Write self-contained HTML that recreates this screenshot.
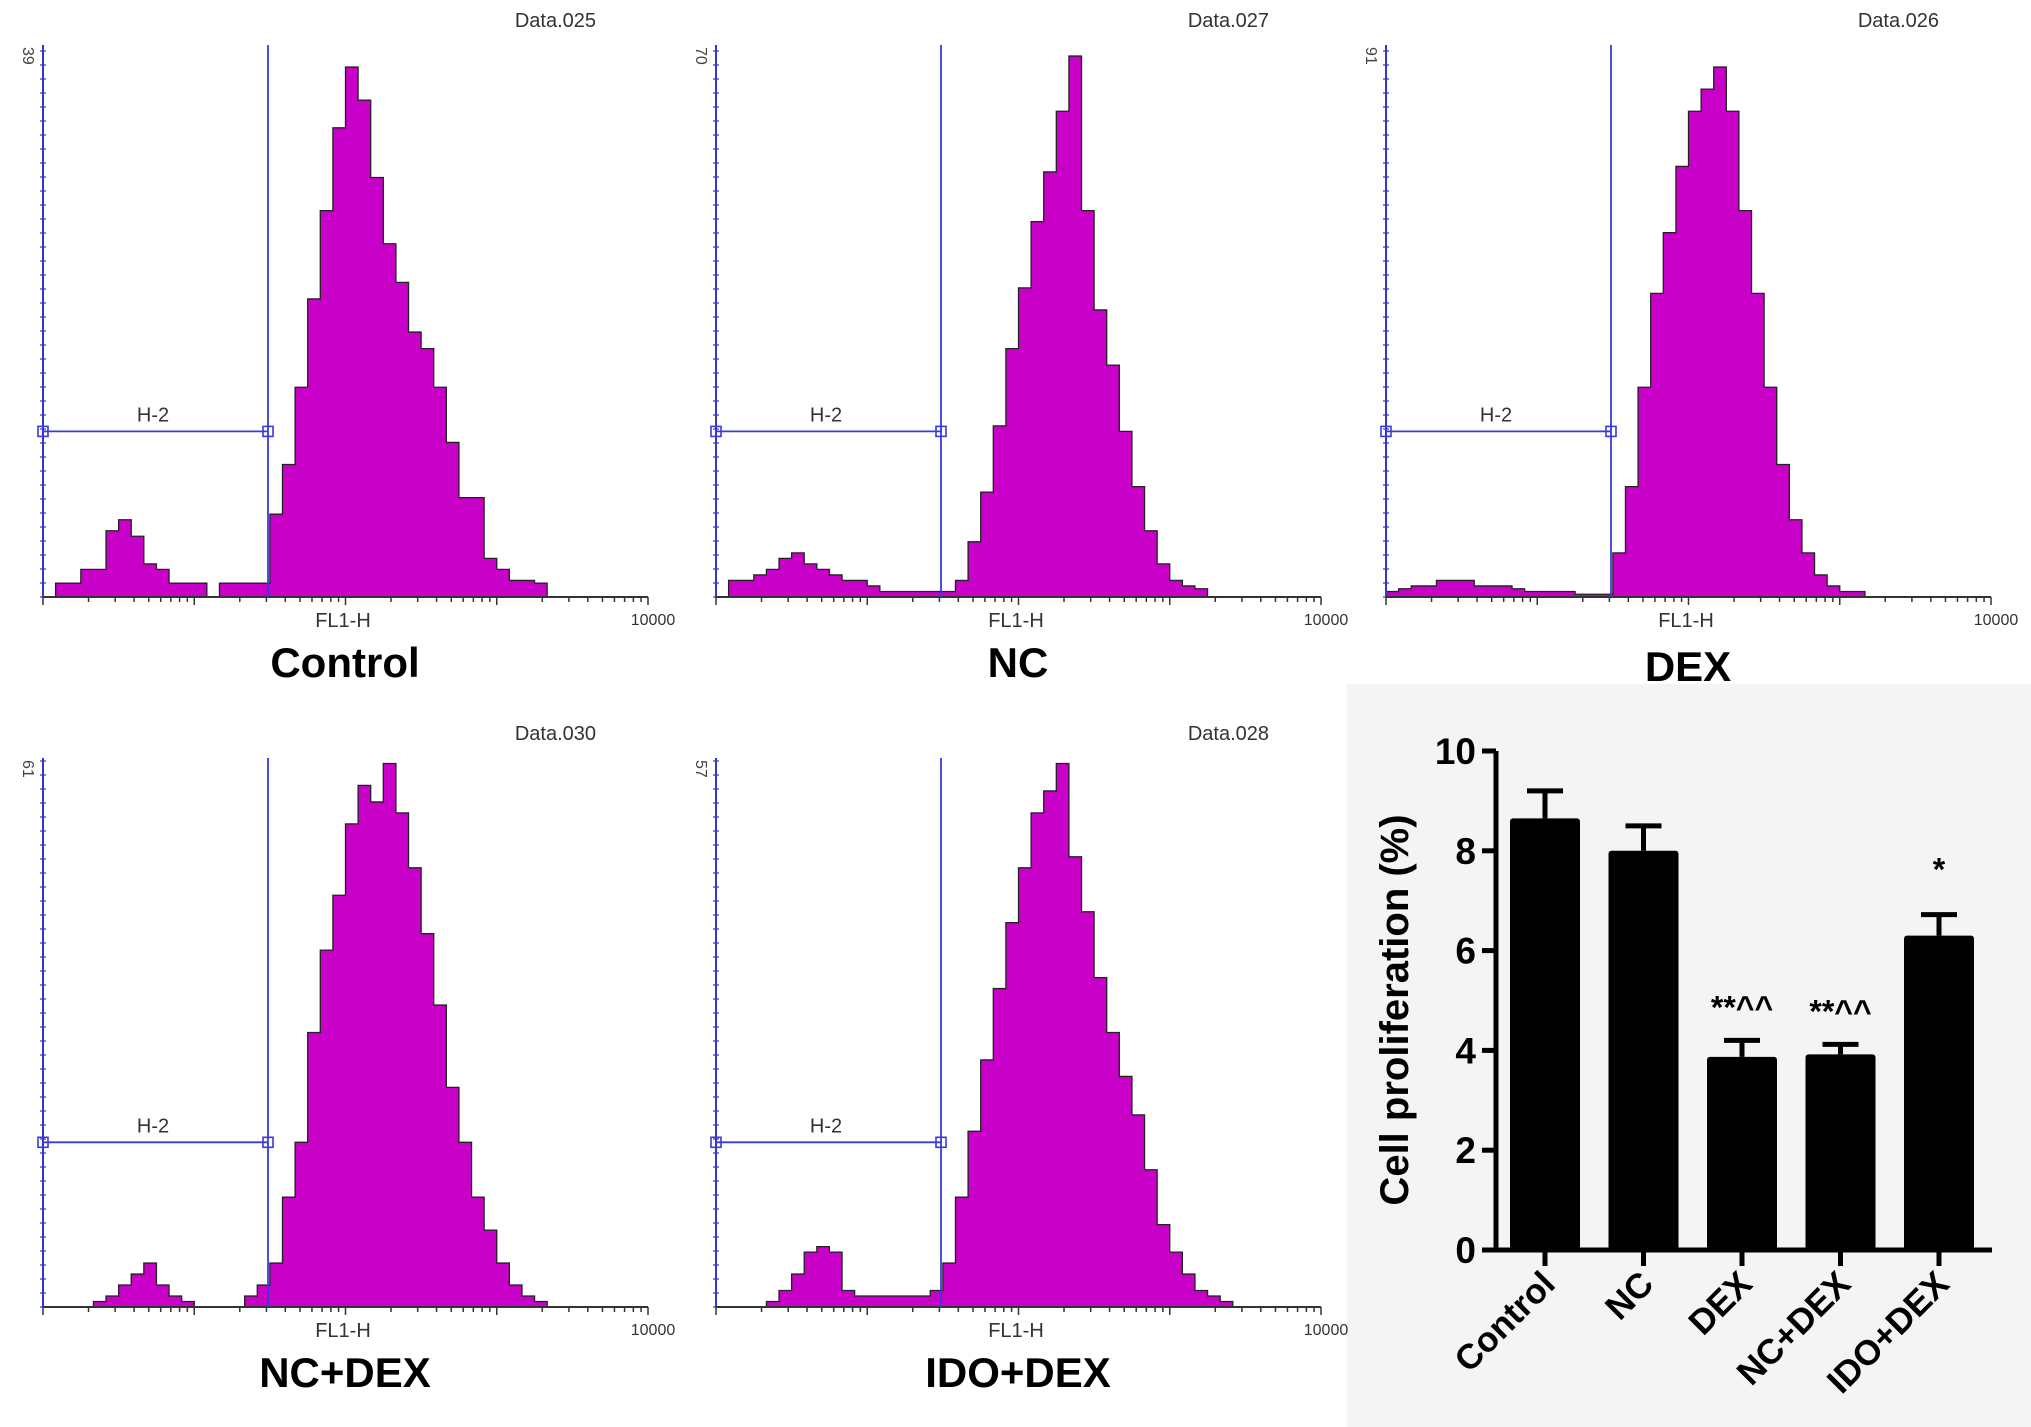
<!DOCTYPE html>
<html><head><meta charset="utf-8"><style>
html,body{margin:0;padding:0;background:#fff}
svg{display:block}
</style></head><body>
<svg id="fig" width="2031" height="1427" viewBox="0 0 2031 1427" xmlns="http://www.w3.org/2000/svg" font-family="Liberation Sans, sans-serif">
<rect x="1347" y="684" width="684" height="743" fill="#f4f4f4"/>
<g id="hists"></g>
<g id="bars"></g>
</svg>
<script>
// ---------- histogram data (percent of axis height, 48 log bins over 1..10000) ----------
const histNames = ["Control","NC","DEX","NC+DEX","IDO+DEX"];
const histFiles = ["Data.025","Data.027","Data.026","Data.030","Data.028"];
const histYMax = ["39","70","91","61","57"];
const histControl = [0,2.5,2.5,5,5,12,14,11,6,5,2.5,2.5,2.5,0,2.5,2.5,2.5,2.5,15,24,38,54,70,85,96,90,76,64,57,48,45,38,28,18,18,7,5,3,3,2.5,0,0,0,0,0,0,0,0];
const histNC = [0,3,3,4,5,7,8,6,5,4,3,3,2,1,1,1,1,1,1,3,10,19,31,45,56,68,77,88,98,70,52,42,30,20,12,6,3,2,1.5,0,0,0,0,0,0,0,0,0];
const histDEX = [1,1.5,2,2,3,3,3,2,2,2,1.5,1,1,1,1,0.5,0.5,0.5,8,20,38,55,66,78,88,92,96,88,70,55,38,24,14,8,4,2,1,1,0,0,0,0,0,0,0,0,0,0];
const histNCDEX = [0,0,0,0,1,2,4,6,8,4,2,1,0,0,0,0,2,4,8,20,30,50,65,75,88,95,92,99,90,80,68,55,40,30,20,14,8,4,2,1,0,0,0,0,0,0,0,0];
const histIDODEX = [0,0,0,0,1,3,6,10,11,10,3,2,2,2,2,2,2,3,8,20,32,45,58,70,80,90,94,99,82,72,60,50,42,35,25,15,10,6,3,2,1,0,0,0,0,0,0,0];
const histSeries = [histControl,histNC,histDEX,histNCDEX,histIDODEX];

// ---------- bar chart data ----------
const barCats = ["Control","NC","DEX","NC+DEX","IDO+DEX"];
const barVals = [8.65,8.0,3.87,3.92,6.3];
const barErr = [0.55,0.5,0.33,0.2,0.42];
const barMarks = ["","","**^^","**^^","*"];
const yTicks = [0,2,4,6,8,10];

const NS="http://www.w3.org/2000/svg";
function mk(tag,attrs,parent,text){const e=document.createElementNS(NS,tag);for(const k in attrs)e.setAttribute(k,attrs[k]);if(text!==undefined)e.textContent=text;parent.appendChild(e);return e;}

const H=document.getElementById('hists');
const panelPos=[[43,45,597],[716,45,597],[1386,45,597],[43,758,1307],[716,758,1307]];
const W=605, NB=48;
const xOf=(x0,i)=>x0+i*W/NB;
histSeries.forEach((data,p)=>{
  const [x0,top,base]=panelPos[p];
  const ah=base-top;
  const g=mk('g',{},H);
  
  
  const yOf=v=>base-v/100*ah;
  let d='M'+x0+' '+base;
  data.forEach((v,i)=>{d+=' L'+xOf(x0,i)+' '+yOf(v)+' L'+xOf(x0,i+1)+' '+yOf(v);});
  d+=' L'+xOf(x0,NB)+' '+base+' Z';
  const path=mk('path',{d:d,fill:'#c800c8',stroke:'#222','stroke-width':1.3},g);
  
  
  const ax=mk('line',{x1:x0,y1:top,x2:x0,y2:base,stroke:'#3535cc','stroke-width':2},g);
  
  
  for(let y=base;y>=top;y-=14){mk('line',{x1:x0-3,y1:y,x2:x0+3,y2:y,stroke:'#3535cc','stroke-width':1.2},g);}
  const xa=mk('line',{x1:x0,y1:base,x2:x0+W,y2:base,stroke:'#333','stroke-width':2},g);
  
  
  for(let dec=0;dec<4;dec++){for(let m=1;m<10;m++){const xx=x0+(dec+Math.log10(m))*W/4;mk('line',{x1:xx,y1:base,x2:xx,y2:base+(m==1?8:5),stroke:'#333','stroke-width':1.5},g);}}
  mk('line',{x1:x0+W,y1:base,x2:x0+W,y2:base+8,stroke:'#333','stroke-width':1.5},g);
  const gx=x0+225, gy=base-0.30*ah;
  const gate=mk('g',{},g);
  
  
  mk('line',{x1:gx,y1:top,x2:gx,y2:base,stroke:'#3a3ad8','stroke-width':1.8},gate);
  mk('line',{x1:x0,y1:gy,x2:gx,y2:gy,stroke:'#3a3ad8','stroke-width':1.8},gate);
  mk('rect',{x:x0-5,y:gy-5,width:10,height:10,fill:'none',stroke:'#3a3ad8','stroke-width':1.6},gate);
  mk('rect',{x:gx-5,y:gy-5,width:10,height:10,fill:'none',stroke:'#3a3ad8','stroke-width':1.6},gate);
  const gl=mk('text',{x:x0+110,y:gy-10,'text-anchor':'middle','font-size':20,fill:'#333'},g,'H-2');
  
  
  const f=mk('text',{x:x0+553,y:top-18,'text-anchor':'end','font-size':20,fill:'#333'},g,histFiles[p]);
  
  
  const ym=mk('text',{x:0,y:0,'font-size':16,fill:'#444',transform:`translate(${x0-20},${top+2}) rotate(90)`},g,histYMax[p]);
  
  
  const xl=mk('text',{x:x0+300,y:base+30,'text-anchor':'middle','font-size':20,fill:'#333'},g,'FL1-H');
  
  
  const xe=mk('text',{x:x0+W+5,y:base+28,'text-anchor':'middle','font-size':16,fill:'#333'},g,'10000');
  
  
  const t=mk('text',{x:x0+302,y:base+(p==2?84:80),'text-anchor':'middle','font-size':42,'font-weight':'bold',fill:'#000'},g,histNames[p]);
  
  
});

// ---------- bar chart ----------
const B=document.getElementById('bars');
const axX=1496, y0=1250, y10=751, xEnd=1992;
const yS=v=>y0-(v/10)*(y0-y10);
const xC=i=>1545+i*98.5;
const bw=70;
const yA=mk('line',{x1:axX,y1:y10,x2:axX,y2:y0+2,stroke:'#000','stroke-width':5},B);


const xA=mk('line',{x1:axX-2,y1:y0,x2:xEnd,y2:y0,stroke:'#000','stroke-width':5},B);


yTicks.forEach(v=>{
  mk('line',{x1:axX-14,y1:yS(v),x2:axX,y2:yS(v),stroke:'#000','stroke-width':5},B);
  const t=mk('text',{x:axX-20,y:yS(v)+13,'text-anchor':'end','font-size':37,'font-weight':'bold',fill:'#000'},B,String(v));
  
  
});
const yl=mk('text',{x:0,y:0,'text-anchor':'middle','font-size':40,'font-weight':'bold',fill:'#000',transform:'translate(1408,1010) rotate(-90)'},B,'Cell proliferation (%)');


barVals.forEach((v,i)=>{
  const cx=xC(i);
  const eb=mk('g',{},B);
  
  
  mk('line',{x1:cx,y1:yS(v),x2:cx,y2:yS(v+barErr[i]),stroke:'#000','stroke-width':5},eb);
  mk('line',{x1:cx-18,y1:yS(v+barErr[i]),x2:cx+18,y2:yS(v+barErr[i]),stroke:'#000','stroke-width':5},eb);
  const r=mk('rect',{x:cx-bw/2,y:yS(v),width:bw,height:y0-yS(v),fill:'#000',rx:3},B);
  
  
  mk('line',{x1:cx,y1:y0,x2:cx,y2:y0+16,stroke:'#000','stroke-width':5},B);
  const lab=mk('text',{x:0,y:0,'text-anchor':'end','font-size':35,'font-weight':'bold',fill:'#000',transform:`translate(${cx+12},${y0+36}) rotate(-45)`},B,barCats[i]);
  
  
  if(barMarks[i]){
    const m=mk('text',{x:cx,y:yS(v+barErr[i])-(barMarks[i]=='*'?34:22),'text-anchor':'middle','font-size':32,'font-weight':'bold',fill:'#000'},B,barMarks[i]);
    
    
  }
});
</script>
</body></html>
